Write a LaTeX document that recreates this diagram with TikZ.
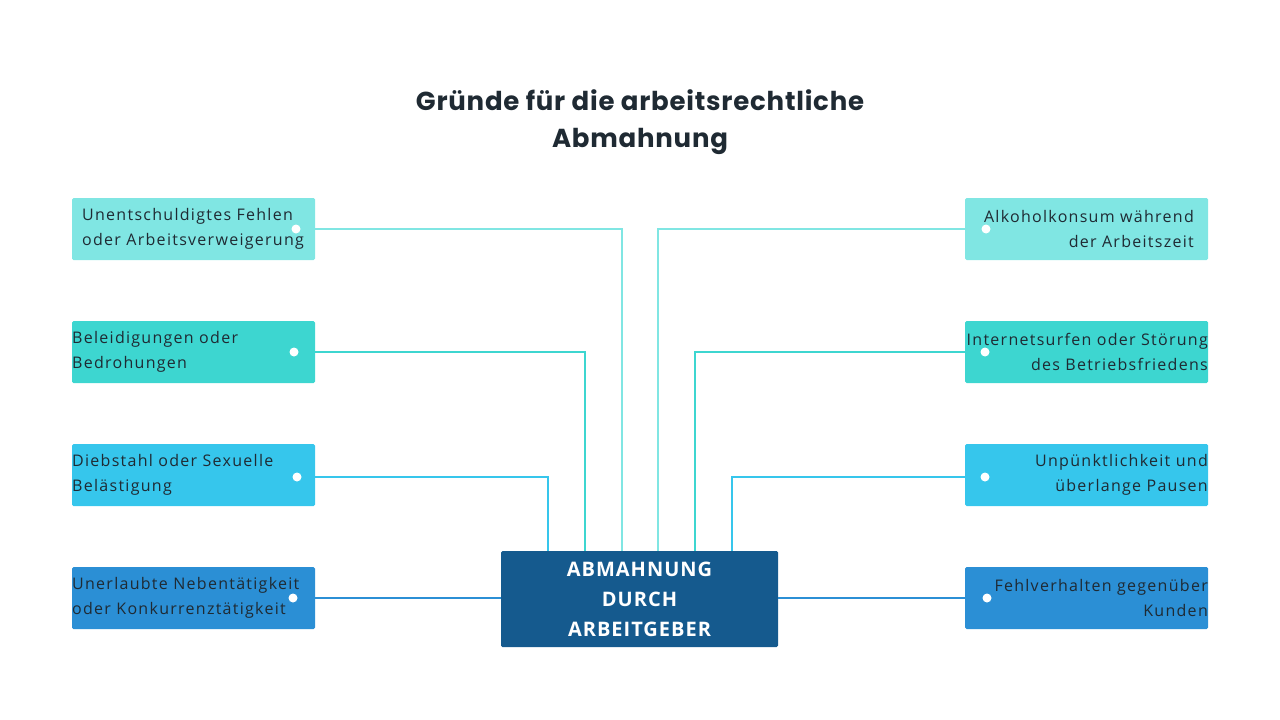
\documentclass[tikz,border=0pt]{standalone}
\usepackage{fontspec}
\setmainfont{Open Sans}[LetterSpace=8]
\newfontfamily\titlefont{Poppins}[LetterSpace=3]
\newfontfamily\centerfont{Open Sans}[LetterSpace=5]
\definecolor{cA}{HTML}{80E6E3}
\definecolor{cB}{HTML}{3DD6D0}
\definecolor{cC}{HTML}{36C6EC}
\definecolor{cD}{HTML}{2B8FD5}
\definecolor{cE}{HTML}{155A8E}
\definecolor{tx}{HTML}{1F2A33}
\begin{document}
\begin{tikzpicture}[x=1pt,y=-1pt,
 box/.style={minimum width=243pt,minimum height=62pt,inner sep=0pt,rounded corners=1.5pt,font=\fontsize{16}{25}\selectfont,text=tx},
 ltxt/.style={align=left},
 rtxt/.style={align=right},
 dot/.style={circle,fill=white,inner sep=0pt,minimum size=9pt},
 ln/.style={line width=1.6pt}]
\useasboundingbox (0,0) rectangle (1280,720);
\node[font=\titlefont\bfseries\fontsize{26}{37}\selectfont,text=tx,align=center] (title) at (640,122) {Gründe für die arbeitsrechtliche\\Abmahnung};
\node[box,fill=cA] (l1) at (193.5,229) {};
\node[box,fill=cB] (l2) at (193.5,352) {};
\node[box,fill=cC] (l3) at (193.5,475) {};
\node[box,fill=cD] (l4) at (193.5,598) {};
\node[box,fill=cA] (r1) at (1086.5,229) {};
\node[box,fill=cB] (r2) at (1086.5,352) {};
\node[box,fill=cC] (r3) at (1086.5,475) {};
\node[box,fill=cD] (r4) at (1086.5,598) {};
\node[box,anchor=west,ltxt,minimum width=0pt] (tl1) at (82,229) {Unentschuldigtes Fehlen\\oder Arbeitsverweigerung};
\node[box,anchor=west,ltxt,minimum width=0pt] (tl2) at (72,352) {Beleidigungen oder\\Bedrohungen};
\node[box,anchor=west,ltxt,minimum width=0pt] (tl3) at (72,475) {Diebstahl oder Sexuelle\\Belästigung};
\node[box,anchor=west,ltxt,minimum width=0pt] (tl4) at (72,598) {Unerlaubte Nebentätigkeit\\oder Konkurrenztätigkeit};
\node[box,anchor=east,rtxt,minimum width=0pt] (tr1) at (1194,229) {Alkoholkonsum während\\der Arbeitszeit};
\node[box,anchor=east,rtxt,minimum width=0pt] (tr2) at (1208,352) {Internetsurfen oder Störung\\des Betriebsfriedens};
\node[box,anchor=east,rtxt,minimum width=0pt] (tr3) at (1208,475) {Unpünktlichkeit und\\überlange Pausen};
\node[box,anchor=east,rtxt,minimum width=0pt] (tr4) at (1208,598) {Fehlverhalten gegenüber\\Kunden};
\node[fill=cE,minimum width=277pt,minimum height=96pt,rounded corners=1.5pt,text=white,align=center,font=\centerfont\bfseries\fontsize{20}{30}\selectfont] (c) at (639.5,599) {ABMAHNUNG\\DURCH\\ARBEITGEBER};
\coordinate (a1) at (622,551); \coordinate (a2) at (585,551); \coordinate (a3) at (548,551);
\coordinate (b1) at (658,551); \coordinate (b2) at (695,551); \coordinate (b3) at (732,551);
\draw[ln,cA] (l1.east) -| (a1);
\draw[ln,cB] (l2.east) -| (a2);
\draw[ln,cC] (l3.east|-0,477) -| (a3);
\draw[ln,cD] (l4.east) -- (c.west|-l4.east);
\draw[ln,cA] (r1.west) -| (b1);
\draw[ln,cB] (r2.west) -| (b2);
\draw[ln,cC] (r3.west|-0,477) -| (b3);
\draw[ln,cD] (r4.west) -- (c.east|-r4.west);
\node[dot] (d1) at (296,229) {}; \node[dot] (d2) at (294,352) {};
\node[dot] (d3) at (297,477) {}; \node[dot] (d4) at (293,598) {};
\node[dot] (e1) at (986,229) {}; \node[dot] (e2) at (985,352) {};
\node[dot] (e3) at (985,477) {}; \node[dot] (e4) at (987,598) {};
\end{tikzpicture}
\end{document}
